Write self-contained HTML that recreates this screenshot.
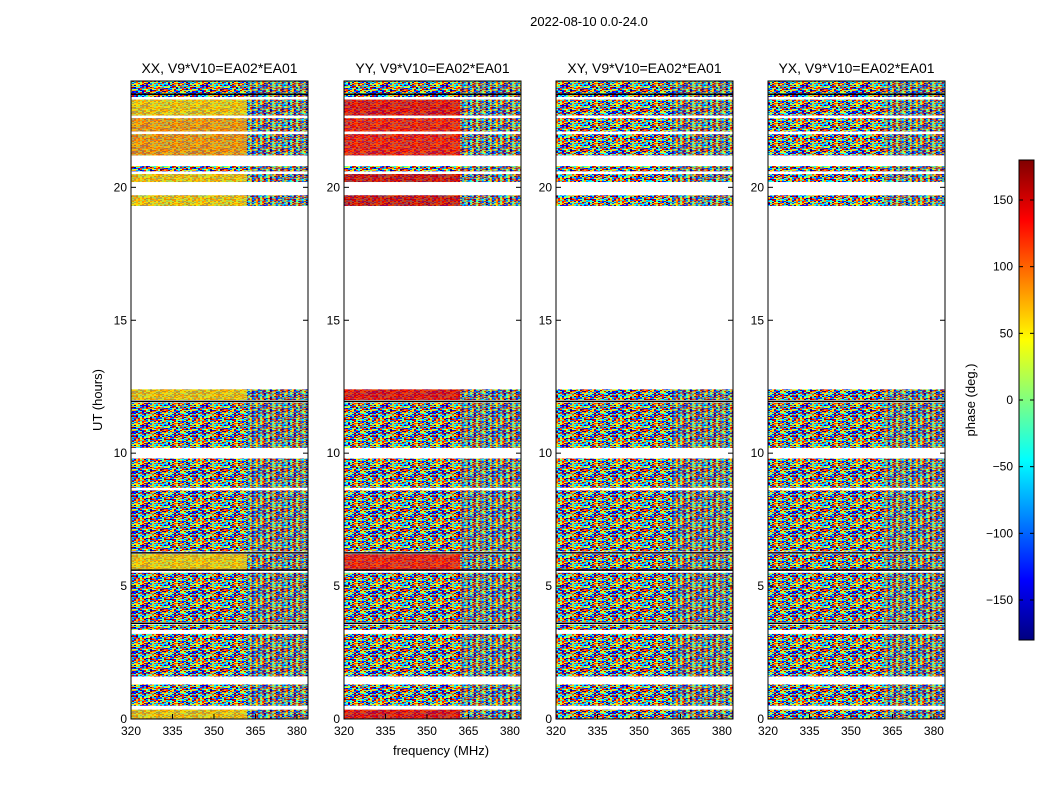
<!DOCTYPE html>
<html><head><meta charset="utf-8">
<style>
body{margin:0;background:#fff;}
svg{display:block;font-family:"Liberation Sans",sans-serif;}
</style></head>
<body>
<svg id="fig" width="1050" height="800" viewBox="0 0 1050 800">
<defs id="defs"></defs>
<text x="589" y="26" font-size="13" text-anchor="middle">2022-08-10 0.0-24.0</text>
<text x="441" y="755" font-size="13" text-anchor="middle">frequency (MHz)</text>
<text transform="translate(102,400) rotate(-90)" font-size="13" text-anchor="middle">UT (hours)</text>
<g id="panels"></g>
<g id="cbar"></g>
</svg>
<script>
// ---- data ----
const panelTitles = ["XX, V9*V10=EA02*EA01","YY, V9*V10=EA02*EA01","XY, V9*V10=EA02*EA01","YX, V9*V10=EA02*EA01"];
const bandStart = [0.0,0.5,1.6,3.35,3.65,5.6,6.3,8.7,10.2,12.0,19.3,20.2,20.6,21.2,22.1,22.7,23.4];
const bandEnd   = [0.35,1.3,3.2,3.55,5.5,6.2,8.6,9.8,11.9,12.4,19.7,20.5,20.8,22.0,22.6,23.3,24.0];
// dominant phase (deg) on low-frequency part per band; null = noise
const phaseXX = [60,null,null,null,null,60,null,null,null,60,60,60,null,80,80,60,null];
const phaseYY = [140,null,null,null,null,130,null,null,null,140,150,150,null,130,130,140,null];
const phaseXY = [null,null,null,null,null,null,null,null,null,null,null,null,null,null,null,null,null];
const phaseYX = [null,null,null,null,null,null,null,null,null,null,null,null,null,null,null,null,null];
const panelPhases = [phaseXX,phaseYY,phaseXY,phaseYX];
const blackLines = [5.6,11.95,23.5,6.25,3.6];
const xTicks = [320,335,350,365,380];
const yTicks = [0,5,10,15,20];
const cbTicks = [150,100,50,0,-50,-100,-150];
// ---- layout ----
const panelX = [131,344,556,768], panelW = 177, plotTop = 81, plotBottom = 719;
const fMin = 320, fMax = 384, tMax = 24, splitF = 362;
const NS="http://www.w3.org/2000/svg";
function el(t,a,p){const e=document.createElementNS(NS,t);for(const k in a)e.setAttribute(k,a[k]);p.appendChild(e);return e;}
function jet(v){let t=(v+180)/360;t=Math.max(0,Math.min(1,t));
 const r=Math.max(0,Math.min(1,1.5-Math.abs(4*t-3))),g=Math.max(0,Math.min(1,1.5-Math.abs(4*t-2))),b=Math.max(0,Math.min(1,1.5-Math.abs(4*t-1)));
 return `rgb(${Math.round(r*255)},${Math.round(g*255)},${Math.round(b*255)})`;}
const yS = h => plotBottom - h*(plotBottom-plotTop)/tMax;
const xS = (f,i) => panelX[i] + (f-fMin)*panelW/(fMax-fMin);
// texture pattern (decorative)
const defsEl=document.getElementById('defs');
const pat=el('pattern',{id:'noise',width:60,height:20,patternUnits:'userSpaceOnUse'},defsEl);
let seed=12345;function lcg(){seed=(seed*1103515245+12345)%2147483648;return seed/2147483648;}
for(let yy=0;yy<20;yy+=1)for(let xx=0;xx<60;xx+=2){el('rect',{x:xx,y:yy,width:2,height:1,fill:jet(lcg()*360-180)},pat);}
const pat2=el('pattern',{id:'stripes',width:6,height:12,patternUnits:'userSpaceOnUse'},defsEl);
for(let xx=0;xx<6;xx++){el('rect',{x:xx,y:0,width:1,height:12,fill:jet(-180+xx*60)},pat2);}
const P=document.getElementById('panels');
panelTitles.forEach((title,i)=>{
 const g=el('g',{},P);
 
 
 const ph=panelPhases[i];
 bandStart.forEach((b0,k)=>{
  const y1=yS(bandEnd[k]),y0=yS(b0);
  const r=el('rect',{x:panelX[i],y:y1,width:panelW,height:y0-y1,fill:'url(#noise)'},g);
  
  
  const sx=xS(splitF,i);
  const st=el('rect',{x:sx,y:y1,width:panelX[i]+panelW-sx,height:y0-y1,fill:'url(#stripes)',opacity:0.3},g);
  
  
  if(ph[k]!==null){
   const c=el('rect',{x:panelX[i],y:y1,width:sx-panelX[i],height:y0-y1,fill:jet(ph[k]),opacity:0.7},g);
   
   
  }
 });
 blackLines.forEach(h=>{const l=el('line',{x1:panelX[i],x2:panelX[i]+panelW,y1:yS(h),y2:yS(h),stroke:'#000','stroke-width':1.5},g);
  
  });
 const fr=el('rect',{x:panelX[i],y:plotTop,width:panelW,height:plotBottom-plotTop,fill:'none',stroke:'#000'},g);
 
 
 const t=el('text',{x:panelX[i]+panelW/2,y:73,'font-size':14,'text-anchor':'middle'},g);t.textContent=title;
 
 
 xTicks.forEach(f=>{const x=xS(f,i);
  el('line',{x1:x,x2:x,y1:plotBottom,y2:plotBottom-5,stroke:'#000'},g);
  const tt=el('text',{x:x,y:plotBottom+16,'font-size':12,'text-anchor':'middle'},g);tt.textContent=f;
  
  });
 yTicks.forEach(h=>{const y=yS(h);
  el('line',{x1:panelX[i],x2:panelX[i]+5,y1:y,y2:y,stroke:'#000'},g);
  el('line',{x1:panelX[i]+panelW,x2:panelX[i]+panelW-5,y1:y,y2:y,stroke:'#000'},g);
  const tt=el('text',{x:panelX[i]-4,y:y+4,'font-size':12,'text-anchor':'end'},g);tt.textContent=h;
  
  });
});
// colorbar
const C=document.getElementById('cbar');
const cx=1019,cw=15,cTop=160,cBot=640;
const cyS=v=>cBot-(v+180)*(cBot-cTop)/360;
const lg=el('linearGradient',{id:'jetg',x1:0,y1:1,x2:0,y2:0},defsEl);
for(let k=0;k<=8;k++){el('stop',{offset:k/8,'stop-color':jet(-180+k*45)},lg);}
const cb=el('rect',{x:cx,y:cTop,width:cw,height:cBot-cTop,fill:'url(#jetg)',stroke:'#000'},C);


cbTicks.forEach(v=>{const y=cyS(v);
 el('line',{x1:cx,x2:cx+4,y1:y,y2:y,stroke:'#000'},C);
 el('line',{x1:cx+cw,x2:cx+cw-4,y1:y,y2:y,stroke:'#000'},C);
 const t=el('text',{x:1013,y:y+4,'font-size':12,'text-anchor':'end'},C);t.textContent=String(v).replace('-','\u2212');
 
 });
const ct=el('text',{transform:'translate(975,400) rotate(-90)','font-size':13,'text-anchor':'middle'},C);ct.textContent='phase (deg.)';


</script>
</body></html>
